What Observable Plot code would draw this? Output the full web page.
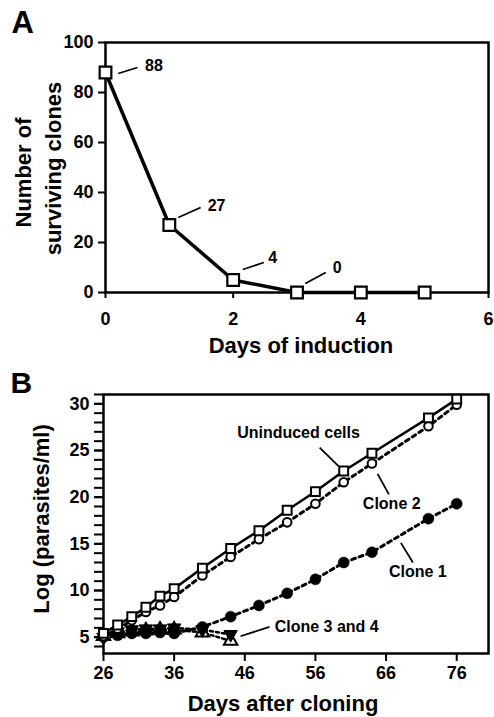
<!DOCTYPE html>
<html>
<head>
<meta charset="utf-8">
<script src="https://cdn.jsdelivr.net/npm/d3@7"></script>
<script src="https://cdn.jsdelivr.net/npm/@observablehq/plot@0.6"></script>
<style>
  html, body { margin: 0; padding: 0; background: white; }
  #chart { position: relative; width: 494px; height: 717px; background: white; }
  #panelA { position: absolute; left: 0; top: 0; }
  #panelB { position: absolute; left: 0; top: 360px; }
</style>
</head>
<body>
<div id="chart"><div id="panelA"></div><div id="panelB"></div></div>
<script>
// ---------- Panel A data ----------
const daysA = [0, 1, 2, 3, 4, 5];
const clonesA = [88, 27, 5, 0, 0, 0];
const xTicksA = [0, 2, 4, 6];
const yTicksA = [0, 20, 40, 60, 80, 100];
const annotTextA = ["88", "27", "4", "0"];
const annotTxA = [0.62, 1.6, 2.55, 3.56];
const annotTyA = [90.5, 34.8, 14, 10];
const annotX1A = [0.20, 1.14, 2.15, 3.13];
const annotY1A = [87.6, 30, 9.2, 3.6];
const annotX2A = [0.50, 1.49, 2.48, 3.45];
const annotY2A = [90, 34, 12, 8];

// ---------- Panel B data ----------
const daysB = [26, 28, 30, 32, 34, 36, 40, 44, 48, 52, 56, 60, 64, 72, 76];
const uninduced = [5.4, 6.3, 7.2, 8.2, 9.4, 10.2, 12.4, 14.5, 16.4, 18.6, 20.6, 22.8, 24.7, 28.5, 30.5];
const clone2 = [5.1, 5.9, 6.8, 7.7, 8.4, 9.3, 11.6, 13.6, 15.5, 17.3, 19.3, 21.6, 23.6, 27.6, 29.9];
const clone1 = [5.0, 5.2, 5.4, 5.4, 5.5, 5.4, 6.1, 7.2, 8.4, 9.7, 11.2, 13.0, 14.1, 17.7, 19.3];
const daysB34 = [26, 28, 30, 32, 34, 36, 40, 44];
const clone3 = [5.0, 5.6, 5.8, 5.9, 5.9, 6.0, 5.8, 5.3];
const clone4 = [5.1, 5.4, 5.6, 5.7, 5.8, 5.8, 5.5, 4.6];
const xTicksB = [26, 36, 46, 56, 66, 76];
const yTicksB = [5, 10, 15, 20, 25, 30];
const yMinorTicksB = [4, 5, 6, 7, 8, 9, 10, 11, 12, 13, 14, 15, 16, 17, 18, 19, 20, 21, 22, 23, 24, 25, 26, 27, 28, 29, 30, 31];
const annotTextB = ["Uninduced cells", "Clone 2", "Clone 1", "Clone 3 and 4"];
const annotTxB = [53.6, 66.8, 70.5, 57.6];
const annotTyB = [26.9, 19.3, 12.0, 6.1];
const annotX1B = [56.6, 64.8, 68.1, 45.4];
const annotY1B = [25.3, 22.5, 15.1, 5.1];
const annotX2B = [59.3, 66.4, 69.8, 49.5];
const annotY2B = [23.3, 20.3, 13.0, 6.1];

const FONT = "'Liberation Sans', Arial, Helvetica, sans-serif";
const baseStyle = {fontFamily: FONT, fontWeight: "bold", color: "black", background: "transparent", overflow: "visible"};
const intFmt = d => String(d);

// ---------- Panel A ----------
const tableA = daysA.map((d, i) => ({day: d, n: clonesA[i]}));
const annA = annotTextA.map((t, i) => ({t, tx: annotTxA[i], ty: annotTyA[i], x1: annotX1A[i], y1: annotY1A[i], x2: annotX2A[i], y2: annotY2A[i]}));

const plotA = Plot.plot({
  width: 494, height: 360,
  marginTop: 42, marginBottom: 68, marginLeft: 105, marginRight: 6,
  style: baseStyle,
  x: {domain: [0, 6]},
  y: {domain: [0, 100]},
  marks: [
    Plot.axisY({ticks: yTicksA, tickFormat: intFmt, tickSize: 7, tickPadding: 5, fontSize: 18, fontWeight: "bold", strokeWidth: 2, label: null}),
    Plot.axisX({ticks: xTicksA, tickFormat: intFmt, tickSize: 6, tickPadding: 14, fontSize: 18, fontWeight: "bold", strokeWidth: 2, label: null}),
    Plot.frame({stroke: "black", strokeWidth: 2.5}),
    Plot.text(["Days of induction"], {text: d => d, frameAnchor: "bottom", textAnchor: "middle", dy: 53, dx: 4, lineAnchor: "middle", fontSize: 22, fontWeight: "bold"}),
    Plot.text(["Number of"], {text: d => d, frameAnchor: "left", textAnchor: "middle", rotate: -90, dx: -75, dy: 5, lineAnchor: "bottom", fontSize: 22, fontWeight: "bold"}),
    Plot.text(["surviving clones"], {text: d => d, frameAnchor: "left", textAnchor: "middle", rotate: -90, dx: -45, dy: 1, lineAnchor: "bottom", fontSize: 22, fontWeight: "bold"}),
    Plot.text(["A"], {text: d => d, frameAnchor: "top-left", textAnchor: "start", lineAnchor: "bottom", dx: -94, dy: -10, fontSize: 31, fontWeight: "bold"}),
    Plot.link(annA, {x1: "x1", y1: "y1", x2: "x2", y2: "y2", stroke: "black", strokeWidth: 1.8}),
    Plot.text(annA, {x: "tx", y: "ty", text: "t", textAnchor: "start", lineAnchor: "middle", fontSize: 16, fontWeight: "bold"}),
    Plot.line(tableA, {x: "day", y: "n", stroke: "black", strokeWidth: 3.5}),
    Plot.dot(tableA, {x: "day", y: "n", symbol: "square", r: 6.6, fill: "white", stroke: "black", strokeWidth: 2.2})
  ]
});
document.getElementById("panelA").appendChild(plotA);

// ---------- Panel B ----------
const tUn = daysB.map((d, i) => ({day: d, v: uninduced[i]}));
const tC2 = daysB.map((d, i) => ({day: d, v: clone2[i]}));
const tC1 = daysB.map((d, i) => ({day: d, v: clone1[i]}));
const tC3 = daysB34.map((d, i) => ({day: d, v: clone3[i]}));
const tC4 = daysB34.map((d, i) => ({day: d, v: clone4[i]}));
const annB = annotTextB.map((t, i) => ({t, tx: annotTxB[i], ty: annotTyB[i], x1: annotX1B[i], y1: annotY1B[i], x2: annotX2B[i], y2: annotY2B[i]}));

const plotB = Plot.plot({
  width: 494, height: 357,
  marginTop: 34, marginBottom: 64, marginLeft: 103, marginRight: 6,
  style: baseStyle,
  x: {domain: [26, 80.5]},
  y: {domain: [3.25, 31]},
  marks: [
    Plot.axisY({ticks: yMinorTicksB, tickSize: 9, tickFormat: () => "", strokeWidth: 2, label: null}),
    Plot.axisY({ticks: yTicksB, tickFormat: intFmt, tickSize: 9, tickPadding: 5, fontSize: 18, fontWeight: "bold", strokeWidth: 2, label: null}),
    Plot.axisX({ticks: xTicksB, tickFormat: intFmt, tickSize: 8, tickPadding: 5, fontSize: 18, fontWeight: "bold", strokeWidth: 2, label: null}),
    Plot.frame({stroke: "black", strokeWidth: 2.5}),
    Plot.text(["Days after cloning"], {text: d => d, frameAnchor: "bottom", textAnchor: "middle", dy: 50, dx: -13, lineAnchor: "middle", fontSize: 22, fontWeight: "bold"}),
    Plot.text(["Log (parasites/ml)"], {text: d => d, frameAnchor: "left", textAnchor: "middle", rotate: -90, dx: -55, dy: -5, lineAnchor: "bottom", fontSize: 22, fontWeight: "bold"}),
    Plot.text(["B"], {text: d => d, frameAnchor: "top-left", textAnchor: "start", lineAnchor: "bottom", dx: -93, dy: -2, fontSize: 30, fontWeight: "bold"}),
    Plot.link(annB, {x1: "x1", y1: "y1", x2: "x2", y2: "y2", stroke: "black", strokeWidth: 1.8}),
    Plot.text(annB, {x: "tx", y: "ty", text: "t", textAnchor: "middle", lineAnchor: "middle", fontSize: 16, fontWeight: "bold"}),
    // clone 3 and 4
    Plot.line(tC4, {x: "day", y: "v", stroke: "black", strokeWidth: 2.5, strokeDasharray: "3,3"}),
    Plot.line(tC3, {x: "day", y: "v", stroke: "black", strokeWidth: 2.5, strokeDasharray: "3,3"}),
    Plot.dot(tC4, {x: "day", y: "v", symbol: "triangle", r: 5, fill: "white", stroke: "black", strokeWidth: 2}),
    Plot.dot(tC3, {x: "day", y: "v", symbol: "triangle", rotate: 180, r: 5, fill: "black", stroke: "black", strokeWidth: 1}),
    // clone 1
    Plot.line(tC1, {x: "day", y: "v", stroke: "black", strokeWidth: 3, strokeDasharray: "4,4"}),
    Plot.dot(tC1, {x: "day", y: "v", r: 5.5, fill: "black", stroke: "black", strokeWidth: 0.5}),
    // clone 2
    Plot.line(tC2, {x: "day", y: "v", stroke: "black", strokeWidth: 3, strokeDasharray: "4,4"}),
    Plot.dot(tC2, {x: "day", y: "v", r: 4.3, fill: "white", stroke: "black", strokeWidth: 2}),
    // uninduced
    Plot.line(tUn, {x: "day", y: "v", stroke: "black", strokeWidth: 2.5}),
    Plot.dot(tUn, {x: "day", y: "v", symbol: "square", r: 5, fill: "white", stroke: "black", strokeWidth: 2})
  ]
});
document.getElementById("panelB").appendChild(plotB);
</script>
</body>
</html>
